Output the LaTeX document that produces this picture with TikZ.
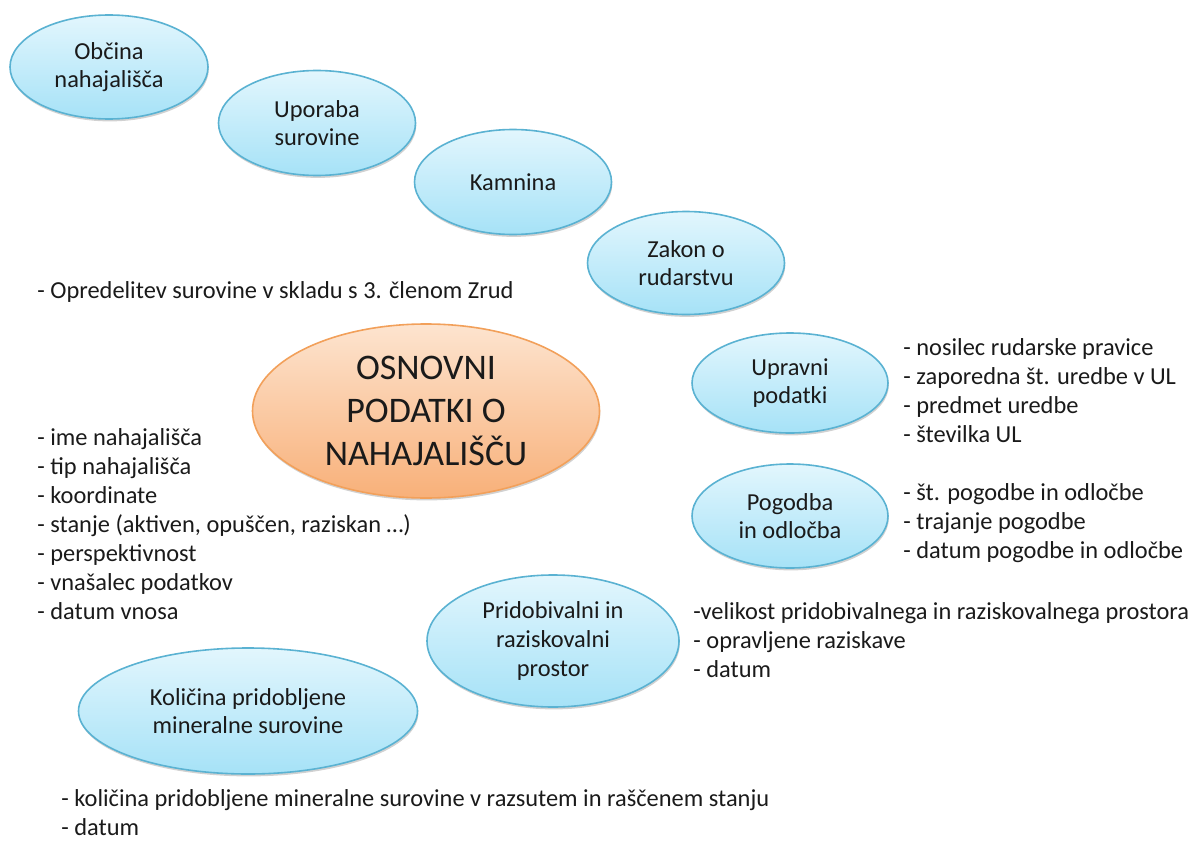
\documentclass[tikz,border=0pt]{standalone}
\usepackage{fontspec}
\setmainfont{Carlito}
\usetikzlibrary{shapes.geometric,shadows}
\definecolor{bubtop}{HTML}{E2F6FD}
\definecolor{bubbot}{HTML}{A6E2F7}
\definecolor{bubline}{HTML}{5AB2D2}
\definecolor{maintop}{HTML}{FDE4CF}
\definecolor{mainbot}{HTML}{F8B079}
\definecolor{mainline}{HTML}{F2A05A}
\definecolor{ink}{HTML}{1A1A1A}
\tikzset{
  softshadow/.style={drop shadow={shadow xshift=0.4pt, shadow yshift=-1.2pt,
    opacity=0.18, fill=black}},
  bubble/.style={ellipse, draw=bubline, line width=0.8pt, top color=bubtop,
    bottom color=bubbot, inner sep=0pt, align=center, text=ink, softshadow,
    font=\fontsize{12.2pt}{14.3pt}\selectfont},
  hub/.style={ellipse, draw=mainline, line width=0.8pt, top color=maintop,
    bottom color=mainbot, inner sep=0pt, align=center, text=ink, softshadow,
    font=\fontsize{18pt}{21.5pt}\selectfont},
  notes/.style={anchor=base west, inner sep=0pt, align=left, text=ink,
    font=\fontsize{12.2pt}{14.5pt}\selectfont}
}
\begin{document}
\begin{tikzpicture}[x=0.5pt, y=-0.5pt]
\useasboundingbox (0,0) rectangle (1198,840);
% topic bubbles
\node[bubble, minimum width=99pt, minimum height=52pt] (obcina) at (109,67) {Občina\\nahajališča};
\node[bubble, minimum width=98.5pt, minimum height=52.5pt] (uporaba) at (317,123) {Uporaba\\surovine};
\node[bubble, minimum width=98.5pt, minimum height=52.5pt] (kamnina) at (513,182) {Kamnina};
\node[bubble, minimum width=98.5pt, minimum height=51.5pt] (zakon) at (686,263) {Zakon o\\rudarstvu};
\node[bubble, minimum width=98pt, minimum height=50pt] (upravni) at (790,383) {Upravni\\podatki};
\node[bubble, minimum width=98pt, minimum height=52pt] (pogodba) at (790,516) {Pogodba\\in odločba};
\node[bubble, minimum width=126pt, minimum height=66pt] (prostor) at (553,641) {Pridobivalni in\\raziskovalni\\prostor};
\node[bubble, minimum width=169.5pt, minimum height=63pt] (kolicina) at (248,711) {Količina pridobljene\\mineralne surovine};
% central bubble
\node[hub, minimum width=173.5pt, minimum height=87pt] (osnovni) at (426,411) {OSNOVNI\\PODATKI O\\NAHAJALIŠČU};
% attribute lists (each placed at the baseline of its last line)
\node[notes] (opredelitev) at (37,298) {- Opredelitev surovine v skladu s 3. členom Zrud};
\node[notes] (splosno) at (37,619) {- ime nahajališča\\- tip nahajališča\\- koordinate\\- stanje (aktiven, opuščen, raziskan …)\\- perspektivnost\\- vnašalec podatkov\\- datum vnosa};
\node[notes] (upravnilist) at (903,442) {- nosilec rudarske pravice\\- zaporedna št. uredbe v UL\\- predmet uredbe\\- številka UL};
\node[notes] (pogodbalist) at (903,558) {- št. pogodbe in odločbe\\- trajanje pogodbe\\- datum pogodbe in odločbe};
\node[notes] (prostorlist) at (693,677) {-velikost pridobivalnega in raziskovalnega prostora\\- opravljene raziskave\\- datum};
\node[notes] (kolicinalist) at (61,835) {- količina pridobljene mineralne surovine v razsutem in raščenem stanju\\- datum};
\end{tikzpicture}
\end{document}
